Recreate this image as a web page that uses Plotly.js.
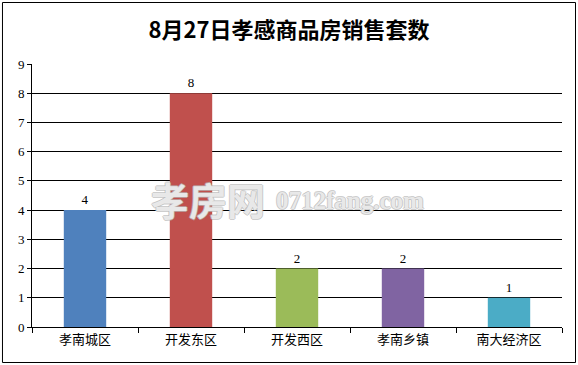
<!DOCTYPE html>
<html>
<head>
<meta charset="utf-8">
<script src="https://cdn.plot.ly/plotly-3.0.1.min.js"></script>
<style>
  html, body { margin: 0; padding: 0; background: #fff; }
  #chart { width: 578px; height: 365px; }
</style>
</head>
<body>
<div id="chart"></div>
<script>
// Units sold per district on 27 August
const districts = ['孝南城区', '开发东区', '开发西区', '孝南乡镇', '南大经济区'];
const units = [4, 8, 2, 2, 1];
const barColors = ['#4F81BD', '#C0504D', '#9BBB59', '#8064A2', '#4BACC6'];
const yTicks = [0, 1, 2, 3, 4, 5, 6, 7, 8, 9];

const cjk = '"SimSun", "Noto Sans CJK SC", sans-serif';
const serifDigits = '"Liberation Serif", "Noto Sans CJK SC", serif';
const outline = '1px 0 0 #b8b8b8, -1px 0 0 #b8b8b8, 0 1px 0 #b8b8b8, 0 -1px 0 #b8b8b8';

const trace = {
  type: 'bar',
  x: districts,
  y: units,
  width: 0.4,
  marker: { color: barColors, line: { width: 0 } },
  text: units.map(String),
  textposition: 'outside',
  cliponaxis: false,
  textfont: { family: serifDigits, size: 13, color: '#000' },
  hoverinfo: 'x+y'
};

const layout = {
  width: 578,
  height: 365,
  margin: { l: 32, r: 16, t: 64, b: 38 },
  paper_bgcolor: '#fff',
  plot_bgcolor: '#fff',
  showlegend: false,
  title: {
    text: '<b>8月27日孝感商品房销售套数</b>',
    font: { family: '"Noto Sans CJK SC", serif', size: 22, color: '#000' },
    x: 0.5,
    xanchor: 'center',
    y: 0.918,
    yanchor: 'middle'
  },
  xaxis: {
    type: 'category',
    showline: true,
    linecolor: '#000',
    linewidth: 1,
    ticks: 'outside',
    tickson: 'boundaries',
    ticklen: 5,
    tickcolor: '#000',
    showgrid: false,
    tickfont: { family: cjk, size: 13, color: '#000' },
    fixedrange: true
  },
  yaxis: {
    range: [0, 9],
    tickvals: yTicks,
    showline: true,
    linecolor: '#000',
    linewidth: 1,
    ticks: 'outside',
    ticklen: 4,
    tickcolor: '#000',
    showgrid: true,
    gridcolor: '#000',
    gridwidth: 1,
    zeroline: false,
    tickfont: { family: serifDigits, size: 13, color: '#000' },
    fixedrange: true
  },
  shapes: [
    {
      // outer frame of the chart
      type: 'rect', xref: 'paper', yref: 'paper',
      x0: -0.0557, x1: 1.0255, y0: -0.135, y1: 1.2338,
      line: { color: '#000', width: 1 }, fillcolor: 'rgba(0,0,0,0)', layer: 'below'
    }
  ],
  annotations: [
    {
      text: '<b>孝房网</b>', xref: 'paper', yref: 'paper',
      x: 0.332, y: 0.49, xanchor: 'center', yanchor: 'middle', showarrow: false,
      font: { family: '"Noto Sans CJK SC", sans-serif', size: 38, color: 'rgba(255,255,255,0.7)', shadow: outline }
    },
    {
      text: '<b>0712fang.com</b>', xref: 'paper', yref: 'paper',
      x: 0.6, y: 0.48, xanchor: 'center', yanchor: 'middle', showarrow: false,
      font: { family: '"Liberation Serif", serif', size: 25, color: 'rgba(255,255,255,0.7)', shadow: outline }
    }
  ]
};

Plotly.newPlot('chart', [trace], layout, { displayModeBar: false, staticPlot: true });
</script>
</body>
</html>
